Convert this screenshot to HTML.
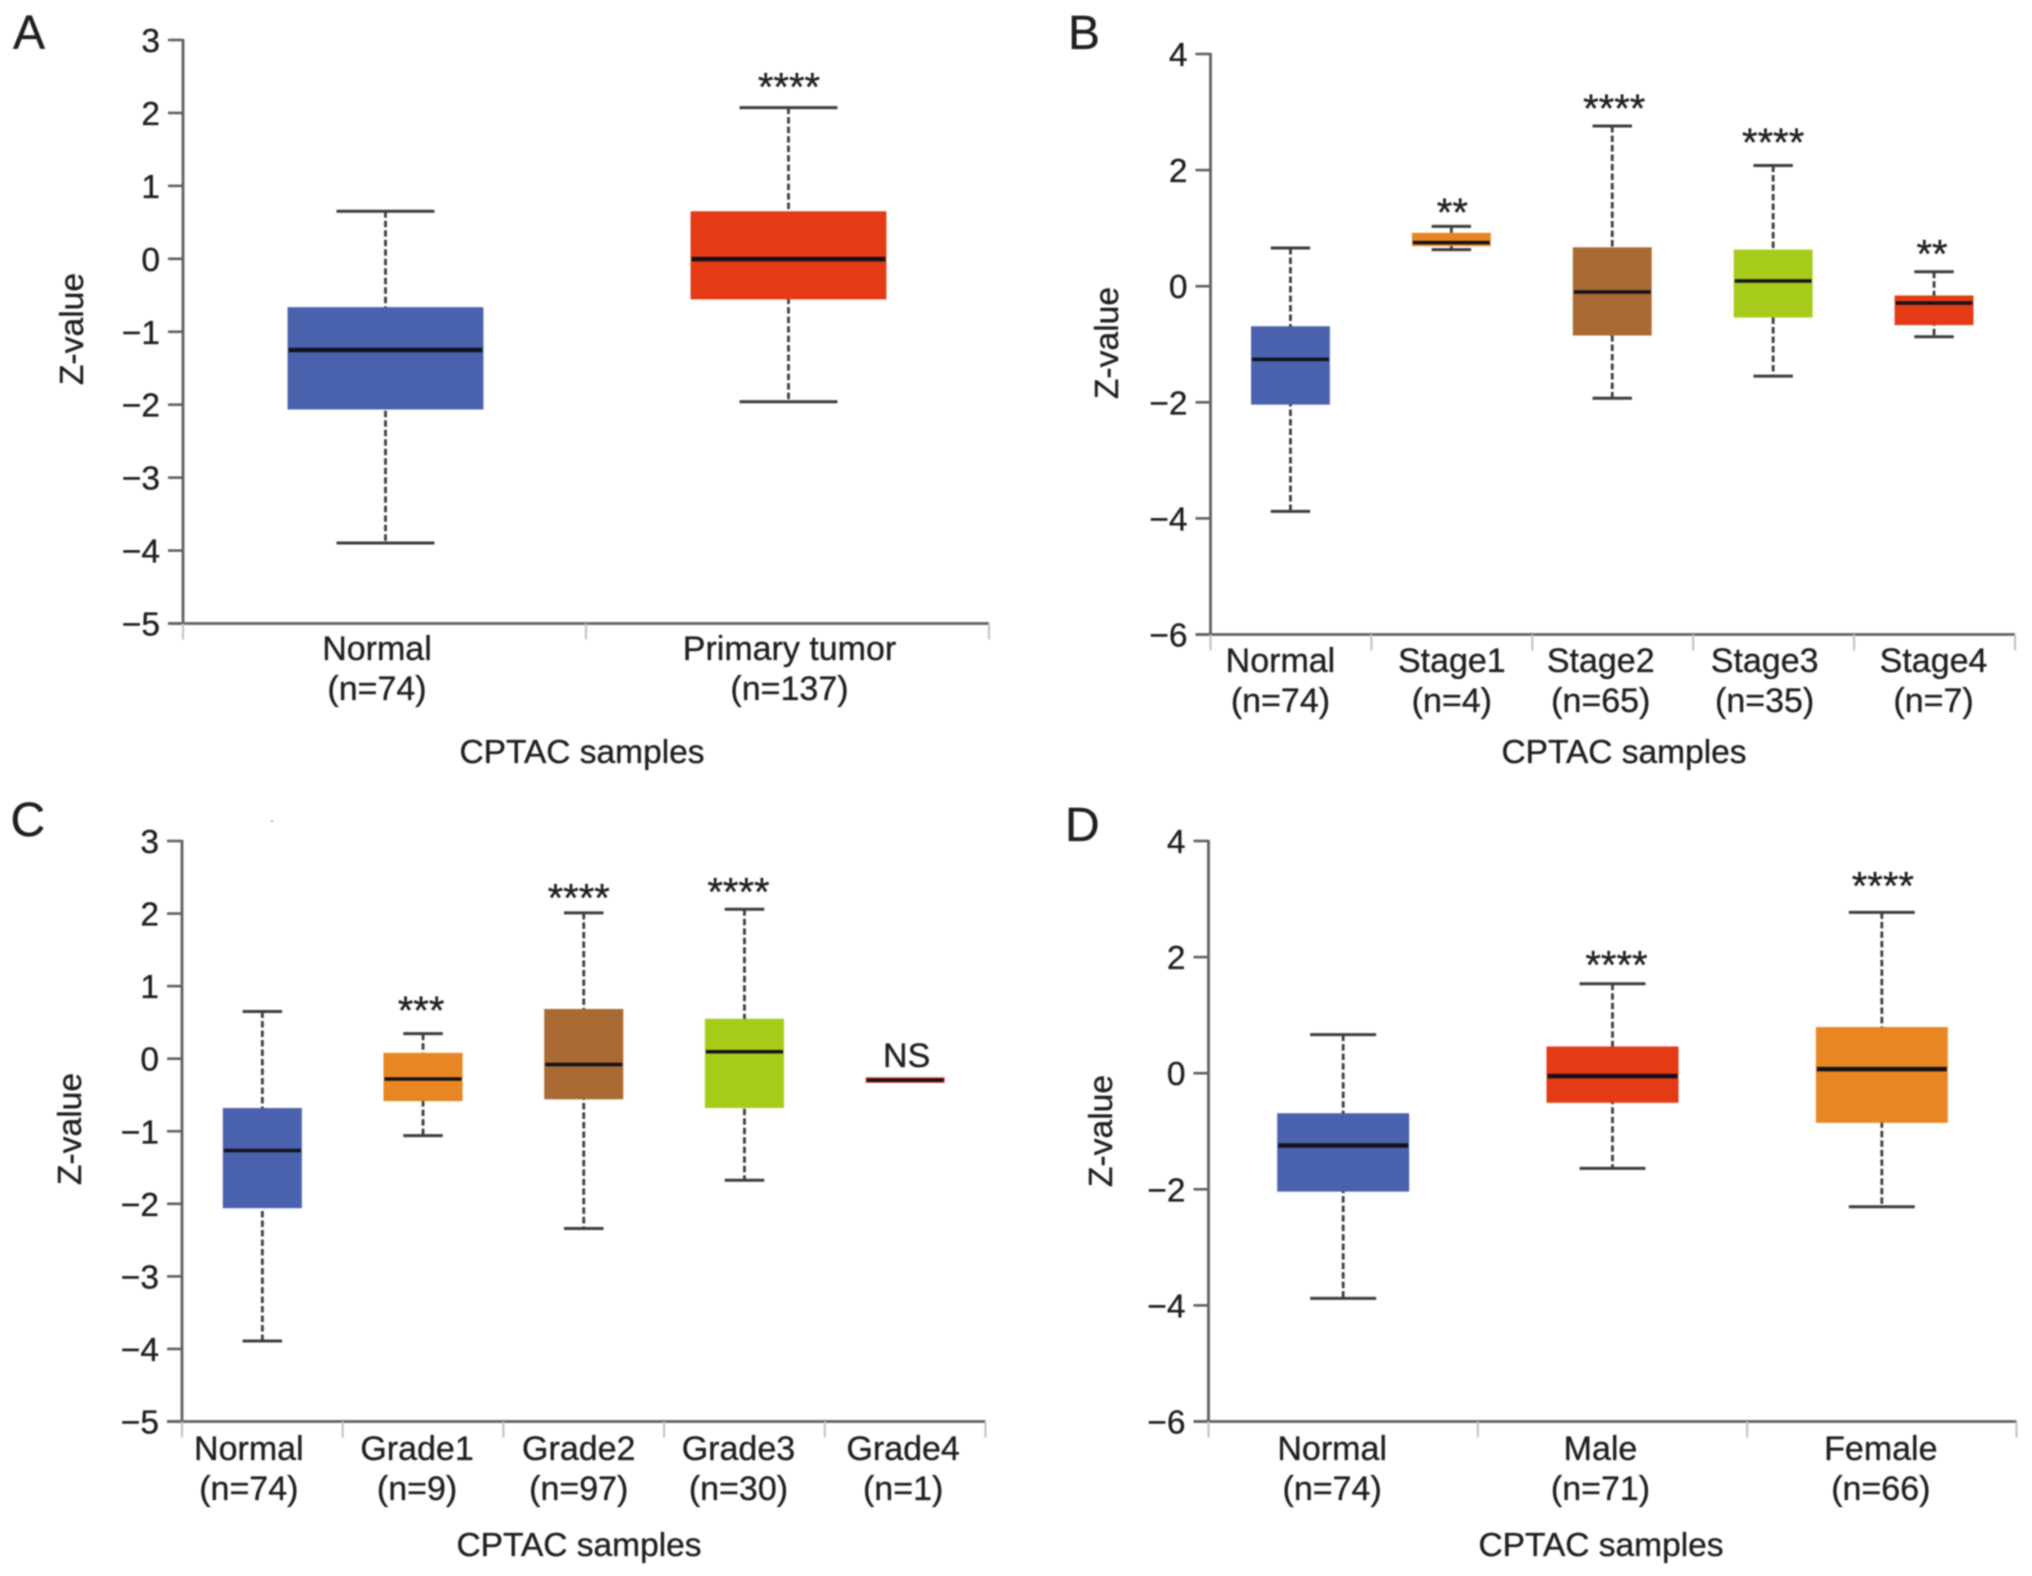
<!DOCTYPE html>
<html lang="en">
<head>
<meta charset="utf-8">
<title>CPTAC Z-value box plots</title>
<style>
html,body{margin:0;padding:0;background:#fff;}
#figure{display:block;width:2032px;height:1576px;filter:blur(0.7px);font-family:"Liberation Sans",sans-serif;}
#figure text{stroke:#1f1f1f;stroke-width:0.35px;}
</style>
</head>
<body>
<svg id="figure" xmlns="http://www.w3.org/2000/svg" width="2032" height="1576" viewBox="0 0 2032 1576">
<rect x="0" y="0" width="2032" height="1576" fill="#ffffff"/>
<rect x="271" y="820" width="2" height="2" fill="#aaaaaa"/>
</svg>
<script>
// Panel A data
const categoriesA = ['Normal', 'Primary tumor'];
const countsA = ['(n=74)', '(n=137)'];
const whiskerHighA = [0.652, 2.073];
const upperQuartileA = [-0.663, 0.652];
const medianA = [-1.25, -0.005];
const lowerQuartileA = [-2.066, -0.556];
const whiskerLowA = [-3.896, -1.96];
const significanceA = ['', '****'];
const significanceLevelA = [null, 2.43];
const yTicksA = [3, 2, 1, 0, -1, -2, -3, -4, -5];

// Panel B data
const categoriesB = ['Normal', 'Stage1', 'Stage2', 'Stage3', 'Stage4'];
const countsB = ['(n=74)', '(n=4)', '(n=65)', '(n=35)', '(n=7)'];
const whiskerHighB = [0.657, 1.03, 2.76, 2.08, 0.25];
const upperQuartileB = [-0.69, 0.92, 0.67, 0.63, -0.16];
const medianB = [-1.26, 0.75, -0.10, 0.09, -0.29];
const lowerQuartileB = [-2.04, 0.69, -0.85, -0.54, -0.67];
const whiskerLowB = [-3.88, 0.63, -1.93, -1.55, -0.87];
const significanceB = ['', '**', '****', '****', '**'];
const significanceLevelB = [null, 1.367, 3.157, 2.57, 0.649];
const yTicksB = [4, 2, 0, -2, -4, -6];

// Panel C data
const categoriesC = ['Normal', 'Grade1', 'Grade2', 'Grade3', 'Grade4'];
const countsC = ['(n=74)', '(n=9)', '(n=97)', '(n=30)', '(n=1)'];
const whiskerHighC = [0.65, 0.345, 2.01, 2.06, -0.295];
const upperQuartileC = [-0.68, 0.08, 0.685, 0.55, -0.255];
const medianC = [-1.265, -0.28, -0.08, 0.095, -0.295];
const lowerQuartileC = [-2.06, -0.585, -0.56, -0.68, -0.335];
const whiskerLowC = [-3.89, -1.06, -2.34, -1.675, -0.295];
const significanceC = ['', '***', '****', '****', 'NS'];
const significanceLevelC = [null, 0.74, 2.29, 2.37, 0.05];
const yTicksC = [3, 2, 1, 0, -1, -2, -3, -4, -5];

// Panel D data
const categoriesD = ['Normal', 'Male', 'Female'];
const countsD = ['(n=74)', '(n=71)', '(n=66)'];
const whiskerHighD = [0.665, 1.54, 2.77];
const upperQuartileD = [-0.69, 0.46, 0.795];
const medianD = [-1.245, -0.05, 0.07];
const lowerQuartileD = [-2.04, -0.51, -0.855];
const whiskerLowD = [-3.88, -1.64, -2.3];
const significanceD = ['', '****', '****'];
const significanceLevelD = [null, 1.96, 3.32];
const yTicksD = [4, 2, 0, -2, -4, -6];

const SVG_NS = 'http://www.w3.org/2000/svg';
const figure = document.getElementById('figure');
const FILLS = {
  Normal: '#4a62ae',
  'Primary tumor': '#e43a16',
  Stage1: '#e78622',
  Stage2: '#a86a32',
  Stage3: '#a6cb1a',
  Stage4: '#e43a16',
  Grade1: '#e78622',
  Grade2: '#a86a32',
  Grade3: '#a6cb1a',
  Grade4: '#e8553a',
  Male: '#e43a16',
  Female: '#e78622'
};
const TEXT_COLOR = '#1f1f1f';
const AXIS_COLOR = '#5f5f5f';
const WHISKER_COLOR = '#3c3c3c';

function slug(s) {
  return String(s).toLowerCase().replace(/[^a-z0-9]+/g, '-').replace(/^-|-$/g, '');
}

function make(parent, tag, attrs, text) {
  const node = document.createElementNS(SVG_NS, tag);
  Object.keys(attrs).forEach(function (k) { node.setAttribute(k, attrs[k]); });
  if (text !== undefined) node.textContent = text;
  parent.appendChild(node);
  return node;
}

function drawPanel(p) {
  const g = make(figure, 'g', {});
  
  

  const yScale = function (v) {
    return p.bottom - (v - p.yMin) / (p.yMax - p.yMin) * (p.bottom - p.top);
  };
  const band = (p.right - p.left) / p.categories.length;
  const xScale = function (i) {
    return p.left + band * (i + 0.5) + p.xShift;
  };

  let el = make(g, 'text', { x: p.letterX, y: p.letterY, 'font-size': 48, fill: TEXT_COLOR }, p.id);
  
  

  // y axis
  el = make(g, 'line', { x1: p.left, x2: p.left, y1: p.top - 1, y2: p.bottom + 1, stroke: AXIS_COLOR, 'stroke-width': 2.8 });
  
  

  p.yTicks.forEach(function (t) {
    const y = yScale(t);
    const tick = make(g, 'line', { x1: p.left - 15, x2: p.left, y1: y, y2: y, stroke: AXIS_COLOR, 'stroke-width': 2.6 });
    
    
    const label = make(g, 'text', { x: p.left - 23, y: y + 12, 'font-size': 33.5, fill: TEXT_COLOR, 'text-anchor': 'end' }, String(t).replace('-', '\u2212'));
    
    
  });

  // x axis
  el = make(g, 'line', { x1: p.left - 15, x2: p.right, y1: p.bottom, y2: p.bottom, stroke: AXIS_COLOR, 'stroke-width': 2.8 });
  
  

  for (let i = 0; i <= p.categories.length; i++) {
    const x = p.left + band * i;
    const tick = make(g, 'line', { x1: x, x2: x, y1: p.bottom, y2: p.bottom + 16, stroke: '#c4c4c4', 'stroke-width': 2.2 });
    
    
  }

  const boxW = band * p.boxFrac;
  p.categories.forEach(function (cat, i) {
    const cx = xScale(i);
    const name = slug(cat);
    const box = make(g, 'g', {});
    
    

    let m = make(box, 'line', { x1: cx, x2: cx, y1: yScale(p.high[i]), y2: yScale(p.low[i]), stroke: WHISKER_COLOR, 'stroke-width': 2.8, 'stroke-dasharray': '6.5 3' });
    
    

    m = make(box, 'line', { x1: cx - boxW / 4, x2: cx + boxW / 4, y1: yScale(p.high[i]), y2: yScale(p.high[i]), stroke: WHISKER_COLOR, 'stroke-width': 3 });
    
    

    m = make(box, 'line', { x1: cx - boxW / 4, x2: cx + boxW / 4, y1: yScale(p.low[i]), y2: yScale(p.low[i]), stroke: WHISKER_COLOR, 'stroke-width': 3 });
    
    

    m = make(box, 'rect', { x: cx - boxW / 2, y: yScale(p.q3[i]), width: boxW, height: yScale(p.q1[i]) - yScale(p.q3[i]), fill: FILLS[cat] });
    
    

    m = make(box, 'line', { x1: cx - boxW / 2 + 1, x2: cx + boxW / 2 - 1, y1: yScale(p.med[i]), y2: yScale(p.med[i]), stroke: '#12121a', 'stroke-width': p.medianWidth });
    
    

    // significance annotation
    if (p.sig[i]) {
      const isWord = p.sig[i] === 'NS';
      m = make(box, 'text', {
        x: cx + p.sigNudge[i],
        y: yScale(p.sigLevel[i]) + (isWord ? 12 : 19),
        'font-size': isWord ? 34 : 40,
        fill: TEXT_COLOR,
        'text-anchor': 'middle'
      }, p.sig[i]);
      
      
    }

    // category labels
    const lx = xScale(i) + p.labelNudge[i];
    m = make(g, 'text', { x: lx, y: p.labelY, 'font-size': 34, fill: TEXT_COLOR, 'text-anchor': 'middle' }, cat);
    
    
    m = make(g, 'text', { x: lx, y: p.labelY + 40, 'font-size': 34, fill: TEXT_COLOR, 'text-anchor': 'middle' }, p.counts[i]);
    
    
  });

  el = make(g, 'text', { x: p.xTitleX, y: p.xTitleY, 'font-size': 33.5, fill: TEXT_COLOR, 'text-anchor': 'middle' }, 'CPTAC samples');
  
  

  el = make(g, 'text', { x: 0, y: 0, 'font-size': 33.7, fill: TEXT_COLOR, 'text-anchor': 'middle', transform: 'translate(' + p.yTitleX + ',' + p.yTitleY + ') rotate(-90)' }, 'Z-value');
  
  
}

drawPanel({
  id: 'A', categories: categoriesA, counts: countsA, high: whiskerHighA, q3: upperQuartileA, med: medianA, q1: lowerQuartileA, low: whiskerLowA,
  sig: significanceA, sigLevel: significanceLevelA, yTicks: yTicksA, yMin: -5, yMax: 3,
  left: 183, right: 989, top: 40, bottom: 623.5, xShift: 1, boxFrac: 0.486, medianWidth: 4.5,
  labelNudge: [-8.5, 1], sigNudge: [0, 0.5], labelY: 660, letterX: 13, letterY: 48.5,
  xTitleX: 582, xTitleY: 763, yTitleX: 83, yTitleY: 329
});
drawPanel({
  id: 'B', categories: categoriesB, counts: countsB, high: whiskerHighB, q3: upperQuartileB, med: medianB, q1: lowerQuartileB, low: whiskerLowB,
  sig: significanceB, sigLevel: significanceLevelB, yTicks: yTicksB, yMin: -6, yMax: 4,
  left: 1210.5, right: 2015, top: 54, bottom: 634.5, xShift: -0.5, boxFrac: 0.49, medianWidth: 3.5,
  labelNudge: [-10, 0.5, -11.5, -8.5, -0.5], sigNudge: [0, 1, 2, 0, -2], labelY: 672, letterX: 1068, letterY: 49,
  xTitleX: 1624, xTitleY: 763, yTitleX: 1118, yTitleY: 343
});
drawPanel({
  id: 'C', categories: categoriesC, counts: countsC, high: whiskerHighC, q3: upperQuartileC, med: medianC, q1: lowerQuartileC, low: whiskerLowC,
  sig: significanceC, sigLevel: significanceLevelC, yTicks: yTicksC, yMin: -5, yMax: 3,
  left: 182, right: 985.5, top: 841, bottom: 1421.5, xShift: 0, boxFrac: 0.492, medianWidth: 3.5,
  labelNudge: [-13.5, -6, -5, -6, -2], sigNudge: [0, -2, -5, -6, 1.5], labelY: 1460, letterX: 10.5, letterY: 836,
  xTitleX: 579, xTitleY: 1556, yTitleX: 81, yTitleY: 1129
});
drawPanel({
  id: 'D', categories: categoriesD, counts: countsD, high: whiskerHighD, q3: upperQuartileD, med: medianD, q1: lowerQuartileD, low: whiskerLowD,
  sig: significanceD, sigLevel: significanceLevelD, yTicks: yTicksD, yMin: -6, yMax: 4,
  left: 1208.5, right: 2016.5, top: 841, bottom: 1421.5, xShift: 0, boxFrac: 0.49, medianWidth: 4.5,
  labelNudge: [-11, -12, -1], sigNudge: [0, 4, 1], labelY: 1460, letterX: 1065, letterY: 841,
  xTitleX: 1601, xTitleY: 1556, yTitleX: 1112, yTitleY: 1131
});
</script>
</body>
</html>
